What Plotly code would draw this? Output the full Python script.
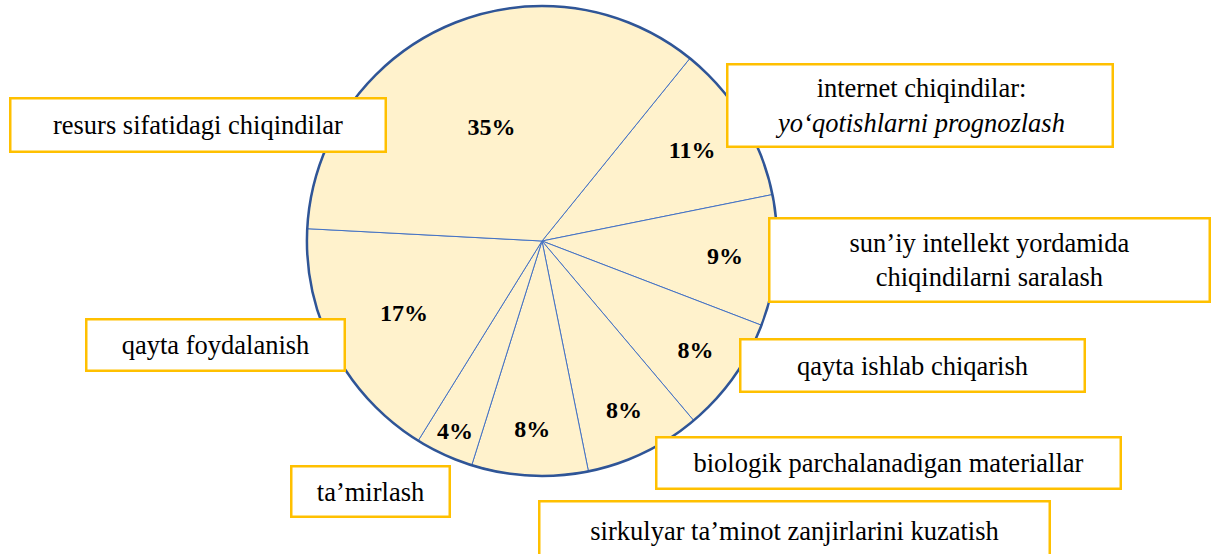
import plotly.graph_objects as go

# Data (clockwise from the upper-right boundary)
categories = [
    "internet chiqindilar:<br><i>yo‘qotishlarni prognozlash</i>",
    "sun’iy intellekt yordamida<br>chiqindilarni saralash",
    "qayta ishlab chiqarish",
    "biologik parchalanadigan materiallar",
    "sirkulyar ta’minot zanjirlarini kuzatish",
    "ta’mirlash",
    "qayta foydalanish",
    "resurs sifatidagi chiqindilar",
]
values = [11, 9, 8, 8, 8, 4, 17, 35]

# Label box layout (box centers and sizes in px)
box_x = [920, 989, 912, 888, 794, 370, 215, 198]
box_y = [105, 260, 365, 463, 530, 491, 345, 125]
box_w = [383, 438, 342, 462, 508, 156, 256, 373]
box_h = [80, 81, 50, 49, 56, 48, 49, 51]

W, H = 1211, 554
cx, cy, r = 542, 241, 235
dom_x = [(cx - r) / W, (cx + r) / W]
dom_y = [(H - cy - r) / H, (H - cy + r) / H]

SERIF = "Liberation Serif"

fig = go.Figure()
fig.add_trace(go.Pie(
    labels=categories,
    values=values,
    sort=False,
    direction="clockwise",
    rotation=39,
    domain=dict(x=dom_x, y=dom_y),
    marker=dict(colors=["#FFF2CC"] * len(values), line=dict(color="#4472C4", width=1)),
    texttemplate="<b>%{value}%</b>",
    textposition="inside",
    insidetextorientation="horizontal",
    textfont=dict(family=SERIF, size=24, color="black"),
    hoverinfo="skip",
    showlegend=False,
))
# outer circle border
fig.add_trace(go.Pie(
    labels=["outline"],
    values=[1],
    domain=dict(x=dom_x, y=dom_y),
    marker=dict(colors=["rgba(0,0,0,0)"], line=dict(color="#2F5597", width=2.5)),
    textinfo="none",
    hoverinfo="skip",
    showlegend=False,
))

annotations = []
for lab, bx, by, bw, bh in zip(categories, box_x, box_y, box_w, box_h):
    annotations.append(dict(
        text=lab,
        x=bx / W, y=1 - by / H,
        xref="paper", yref="paper",
        xanchor="center", yanchor="middle",
        showarrow=False,
        width=bw, height=bh,
        align="center", valign="middle",
        bgcolor="white",
        bordercolor="#FFC000",
        borderwidth=2.5,
        borderpad=0,
        font=dict(family=SERIF, size=26.5, color="black"),
    ))

fig.update_layout(
    width=W, height=H,
    margin=dict(l=0, r=0, t=0, b=0),
    font=dict(family=SERIF, size=22, color="black"),
    paper_bgcolor="white",
    plot_bgcolor="white",
    annotations=annotations,
)

fig.write_html("out.html", config={"displayModeBar": False},
               post_script="document.body.style.margin='0';")
